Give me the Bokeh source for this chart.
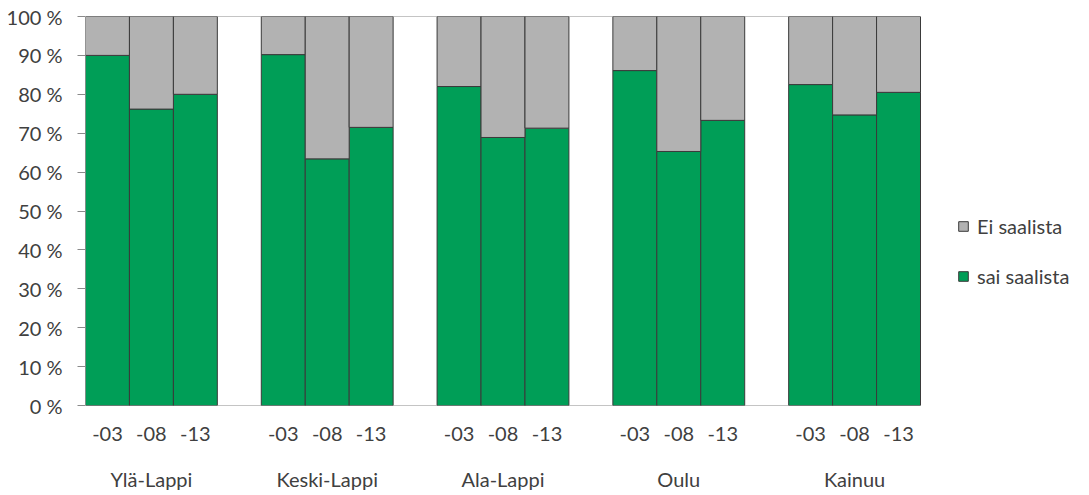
from bokeh.plotting import figure
from bokeh.models import (Range1d, FixedTicker, LinearAxis, Legend, LegendItem,
                          ColumnDataSource)
from bokeh.embed import file_html
from bokeh.resources import INLINE

# ---- data ----
regions = ["Ylä-Lappi", "Keski-Lappi", "Ala-Lappi", "Oulu", "Kainuu"]
years = ["-03", "-08", "-13"]
sai_saalista = [
    [90.0, 76.2, 80.0],   # Ylä-Lappi
    [90.2, 63.4, 71.5],   # Keski-Lappi
    [82.0, 68.9, 71.3],   # Ala-Lappi
    [86.1, 65.3, 73.3],   # Oulu
    [82.5, 74.7, 80.5],   # Kainuu
]
y_ticks = [0, 10, 20, 30, 40, 50, 60, 70, 80, 90, 100]
y_tick_labels = ["0 %", "10 %", "20 %", "30 %", "40 %", "50 %", "60 %",
                 "70 %", "80 %", "90 %", "100 %"]

GREEN = "#009E57"
GREY = "#B2B2B2"
EDGE = "#3a3a3a"
TEXT = "#404040"
AXIS = "#8a8a8a"
FONT = "Lato"
FS_Y = "20px"
FS_X = "20px"

# layout (pixels)
W, H = 1089, 495
LEFT, RIGHT_BARS, TOP, BOTTOM = 85, 920, 16, 405

# slots: 3 bars + 1 gap per group
slot_per_group = len(years) + 1
n_slots = len(regions) * slot_per_group - 1
x_end = n_slots * (W - LEFT) / (RIGHT_BARS - LEFT)

xs, sai, ei, yr = [], [], [], []
for gi, reg in enumerate(regions):
    for yi, y in enumerate(years):
        xs.append(gi * slot_per_group + yi + 0.5)
        sai.append(sai_saalista[gi][yi])
        ei.append(100 - sai_saalista[gi][yi])
        yr.append(y)

src = ColumnDataSource(dict(x=xs, sai=sai, ei=ei, year=yr))

p = figure(width=W, height=H, output_backend="svg", toolbar_location=None,
           x_range=Range1d(0, x_end), y_range=Range1d(0, 100),
           min_border_left=LEFT, min_border_top=TOP, min_border_right=0,
           min_border_bottom=H - BOTTOM)
p.outline_line_color = None
p.background_fill_color = "white"
p.grid.visible = False

# 100 % line and baseline spanning the category area
p.segment(x0=[0, 0], y0=[100, 0], x1=[n_slots, n_slots], y1=[100, 0],
          line_color=AXIS, line_width=1)

r = p.vbar_stack(["sai", "ei"], x="x", width=1.0, source=src,
                 fill_color=[GREEN, GREY], line_color=EDGE, line_width=1)

# y axis
ya = p.yaxis[0]
ya.ticker = FixedTicker(ticks=y_ticks)
ya.major_label_overrides = {t: l for t, l in zip(y_ticks, y_tick_labels)}
ya.major_tick_out = 8
ya.major_tick_in = 0
ya.minor_tick_out = 0
ya.minor_tick_in = 0
ya.axis_line_color = None
ya.major_tick_line_color = AXIS
ya.major_label_standoff = 15
ya.major_label_text_font = FONT
ya.major_label_text_font_size = FS_Y
ya.major_label_text_color = TEXT

# x axis: year labels
xa = p.xaxis[0]
xa.ticker = FixedTicker(ticks=xs)
xa.major_label_overrides = {x: y for x, y in zip(xs, yr)}
xa.major_tick_out = 0
xa.major_tick_in = 0
xa.minor_tick_out = 0
xa.minor_tick_in = 0
xa.axis_line_color = None
xa.major_label_standoff = 21
xa.major_label_text_font = FONT
xa.major_label_text_font_size = FS_X
xa.major_label_text_color = TEXT

# second x axis: region labels
centers = [gi * slot_per_group + (len(years)) / 2 for gi in range(len(regions))]
ga = LinearAxis(ticker=FixedTicker(ticks=centers),
                major_label_overrides={c: r_ for c, r_ in zip(centers, regions)})
ga.axis_line_color = None
ga.major_tick_out = 0
ga.major_tick_in = 0
ga.minor_tick_out = 0
ga.minor_tick_in = 0
ga.major_label_standoff = 23
ga.major_label_text_font = FONT
ga.major_label_text_font_size = FS_X
ga.major_label_text_color = TEXT
p.add_layout(ga, "below")

legend = Legend(items=[LegendItem(label="Ei saalista", renderers=[r[1]]),
                       LegendItem(label="sai saalista", renderers=[r[0]])],
                location=(872, 117))
legend.border_line_color = None
legend.background_fill_alpha = 0
legend.label_text_font = FONT
legend.label_text_font_size = FS_X
legend.label_text_color = TEXT
legend.glyph_width = 12
legend.glyph_height = 12
legend.spacing = 26
legend.label_standoff = 8
legend.margin = 0
legend.padding = 0
p.add_layout(legend, "center")

open("out.html", "w").write(file_html(p, INLINE))
